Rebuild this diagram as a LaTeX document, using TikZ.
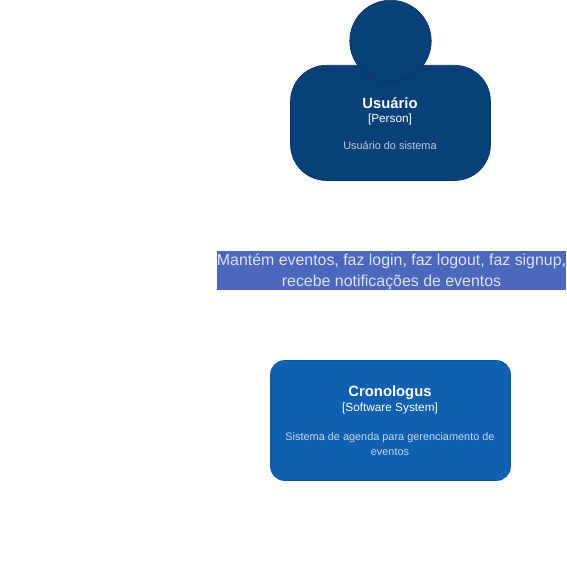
\documentclass[tikz,border=0pt]{standalone}
\usepackage{fontspec}
\setmainfont{Liberation Sans}
\definecolor{person}{HTML}{08407A}
\definecolor{personline}{HTML}{063463}
\definecolor{system}{HTML}{1060B0}
\definecolor{systemline}{HTML}{0D5499}
\definecolor{labelbg}{HTML}{4C68BC}
\definecolor{labeltx}{HTML}{DCE1F2}
\definecolor{desca}{HTML}{BFCBDA}
\definecolor{descb}{HTML}{C6D6E8}
\tikzset{
  px/.style={x=1pt,y=-1pt},
  personshape/.style={fill=person,draw=personline,line width=0.6pt},
  systemshape/.style={fill=system,draw=systemline,line width=0.6pt},
  titletext/.style={text=white,font=\fontsize{14.8}{18}\selectfont\bfseries,inner sep=0pt,anchor=center},
  kindtext/.style={text=white,font=\fontsize{11.8}{14}\selectfont,inner sep=0pt,anchor=center},
  desctext/.style={font=\fontsize{10.9}{15}\selectfont,inner sep=0pt,anchor=center,align=center},
  rellabel/.style={text=labeltx,font=\fontsize{15.9}{21}\selectfont,inner sep=0pt,anchor=center,align=center}
}
\begin{document}
\begin{tikzpicture}[px]
\useasboundingbox (0,0) rectangle (566,572);
% person
\draw[personshape,rounded corners=36pt] (290.5,65.3) rectangle (490.5,180.5);
\node[personshape,circle,minimum size=81.5pt,inner sep=0pt] (head) at (390.5,41) {};
\node[titletext] (ptitle) at (390,103) {Usuário};
\node[kindtext] (pkind) at (390,119.5) {[Person]};
\node[desctext,text=desca] (pdesc) at (390,145.5) {Usuário do sistema};
% relationship label
\fill[labelbg] (217,251) rectangle (566,290);
\node[rellabel] (rel) at (391.5,272) {Mantém eventos, faz login, faz logout, faz signup,\\recebe notificações de eventos};
% system
\draw[systemshape,rounded corners=14pt] (270.5,360.5) rectangle (510.5,480.5);
\node[titletext] (stitle) at (390,392.5) {Cronologus};
\node[kindtext] (skind) at (390,408.8) {[Software System]};
\node[desctext,text=descb] (sdesc) at (390,444.5) {Sistema de agenda para gerenciamento de\\eventos};
\end{tikzpicture}
\end{document}
